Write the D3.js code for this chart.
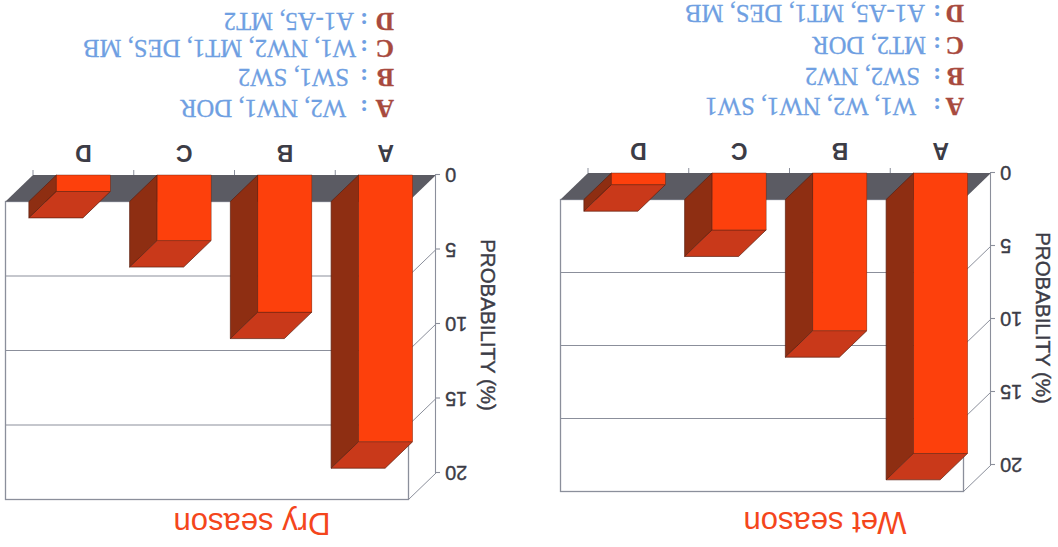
<!DOCTYPE html>
<html>
<head>
<meta charset="utf-8">
<script src="https://cdnjs.cloudflare.com/ajax/libs/d3/7.8.5/d3.min.js"></script>
<style>
  html, body { margin: 0; padding: 0; background: #fff; }
  svg { display: block; }
</style>
</head>
<body>
<svg id="chart" width="1058" height="547"></svg>
<script>
// Chart values
const categories = ["A", "B", "C", "D"];
const wetValues = [19.2, 10.8, 3.9, 0.8];
const dryValues = [17.9, 9.2, 4.4, 1.1];
const tickValues = [0, 5, 10, 15, 20];
const wetGroups = ["W1, W2, NW1, SW1", "SW2, NW2", "MT2, DOR", "A1-A5, MT1, DES, MB"];
const dryGroups = ["W2, NW1, DOR", "SW1, SW2", "W1, NW2, MT1, DES, MB", "A1-A5, MT2"];

// Panel geometry
const panels = [
  { title: "Wet season", values: wetValues, groups: wetGroups,
    left: 67, zero: 374, top: 82, width: 403, titleX: 233, titleY: 35, axisTitleX: 22, axisTitleY: 229,
    keyX: 94, colonX: 121, groupX: [142, 138, 132, 133], rowY: [449, 479, 510, 542] },
  { title: "Dry season", values: dryValues, groups: dryGroups,
    left: 622, zero: 372, top: 74, width: 403, titleX: 806, titleY: 34, axisTitleX: 577, axisTitleY: 222,
    keyX: 664, colonX: 694, groupX: [712, 709, 702, 704], rowY: [447, 478, 507, 534] }
];
const depthX = 27.5, depthY = 26.5;

const colors = {
  face: "#fd400c", side: "#8e2e12", cap: "#c9391a", edge: "#5c2010",
  floor: "#5b5b63", line: "#8b8f9b", title: "#f4461c", text: "#3c3c46",
  key: "#a84a3e", group: "#6f9fe2"
};
const sans = "'Liberation Sans', Arial, sans-serif";
const serif = "'Liberation Serif', 'Times New Roman', serif";

// The whole figure is printed upside down, so everything sits in a half-turned group
const root = d3.select("#chart").append("g").attr("transform", "rotate(180 529 273.5)");

panels.forEach(p => {
  const g = root.append("g");
  const x = d3.scaleBand().domain(categories)
    .range([p.left, p.left + p.width]).paddingInner(0.464).paddingOuter(0.232);
  const y = d3.scaleLinear().domain([0, 20]).range([p.zero, p.top]);
  const poly = pts => pts.map(d => d.join(",")).join(" ");

  // Back wall
  g.append("rect")
    .attr("x", p.left + depthX).attr("y", y(20) - depthY)
    .attr("width", p.width).attr("height", y(0) - y(20))
    .attr("fill", "#fff").attr("stroke", colors.line).attr("stroke-width", 1.3);

  // Floor
  g.append("polygon")
    .attr("points", poly([
      [p.left, y(0)], [p.left + p.width, y(0)],
      [p.left + p.width + depthX, y(0) - depthY], [p.left + depthX, y(0) - depthY]
    ]))
    .attr("fill", colors.floor);

  // Gridlines on the back wall and their returns on the side wall
  g.selectAll(".grid").data(tickValues.slice(1, 4)).join("line")
    .attr("x1", p.left + depthX).attr("x2", p.left + p.width + depthX)
    .attr("y1", d => y(d) - depthY).attr("y2", d => y(d) - depthY)
    .attr("stroke", colors.line).attr("stroke-width", 1.2);
  g.selectAll(".ret").data(tickValues.slice(1)).join("line")
    .attr("x1", p.left).attr("x2", p.left + depthX)
    .attr("y1", d => y(d)).attr("y2", d => y(d) - depthY)
    .attr("stroke", colors.line).attr("stroke-width", 1);

  // Value axis
  const axis = g.append("g").attr("transform", `translate(${p.left},0)`)
    .call(d3.axisLeft(y).tickValues(tickValues).tickSize(4).tickPadding(5));
  axis.selectAll("path,line").attr("stroke", colors.line).attr("stroke-width", 1.1);
  axis.selectAll("text")
    .attr("font-family", sans).attr("font-size", 20)
    .attr("fill", colors.text).attr("stroke", colors.text).attr("stroke-width", 0.35);

  // Category ticks at the band edges and category names at the band centres
  const step = x.step();
  g.selectAll(".cat-tick").data(categories).join("line")
    .attr("x1", d => x(d) + x.bandwidth() / 2 + step / 2)
    .attr("x2", d => x(d) + x.bandwidth() / 2 + step / 2)
    .attr("y1", y(0)).attr("y2", y(0) + 5)
    .attr("stroke", colors.line);
  g.selectAll(".cat-label").data(categories).join("text")
    .attr("x", d => x(d) + x.bandwidth() / 2).attr("y", y(0) + 30)
    .attr("text-anchor", "middle")
    .attr("font-family", sans)
    .attr("font-size", 23).attr("font-weight", 700).attr("fill", colors.text)
    .text(d => d);

  // Extruded bars
  const bars = g.selectAll(".bar")
    .data(categories.map((c, i) => ({ c, v: p.values[i] }))).join("g");
  bars.append("polygon")
    .attr("points", d => {
      const x1 = x(d.c) + x.bandwidth();
      return poly([[x1, y(0)], [x1 + depthX, y(0) - depthY],
                   [x1 + depthX, y(d.v) - depthY], [x1, y(d.v)]]);
    })
    .attr("fill", colors.side).attr("stroke", colors.edge).attr("stroke-width", 0.7);
  bars.append("polygon")
    .attr("points", d => {
      const x0 = x(d.c), x1 = x0 + x.bandwidth();
      return poly([[x0, y(d.v)], [x1, y(d.v)],
                   [x1 + depthX, y(d.v) - depthY], [x0 + depthX, y(d.v) - depthY]]);
    })
    .attr("fill", colors.cap).attr("stroke", colors.edge).attr("stroke-width", 0.7);
  bars.append("rect")
    .attr("x", d => x(d.c)).attr("y", d => y(d.v))
    .attr("width", x.bandwidth()).attr("height", d => y(0) - y(d.v))
    .attr("fill", colors.face).attr("stroke", colors.edge).attr("stroke-width", 0.4);

  // Axis title
  g.append("text")
    .attr("transform", `translate(${p.axisTitleX},${p.axisTitleY}) rotate(-90)`)
    .attr("text-anchor", "middle")
    .attr("font-family", sans)
    .attr("font-size", 20.5).attr("fill", colors.text)
    .attr("stroke", colors.text).attr("stroke-width", 0.4)
    .text("PROBABILITY (%)");

  // Panel title
  g.append("text")
    .attr("x", p.titleX).attr("y", p.titleY)
    .attr("text-anchor", "middle")
    .attr("font-family", sans)
    .attr("font-size", 31).attr("fill", colors.title)
    .text(p.title);

  // Key to the letter groups
  const rows = g.selectAll(".row").data(categories).join("g");
  rows.append("text")
    .attr("x", p.keyX).attr("y", (d, i) => p.rowY[i])
    .attr("font-family", serif)
    .attr("font-size", 25.5).attr("font-weight", 700).attr("fill", colors.key)
    .attr("stroke", colors.key).attr("stroke-width", 0.3)
    .text(d => d);
  rows.append("text")
    .attr("x", p.colonX).attr("y", (d, i) => p.rowY[i])
    .attr("text-anchor", "middle")
    .attr("font-family", serif)
    .attr("font-size", 24).attr("font-weight", 700).attr("fill", colors.group)
    .text(":");
  rows.append("text")
    .attr("x", (d, i) => p.groupX[i]).attr("y", (d, i) => p.rowY[i])
    .attr("font-family", serif)
    .attr("font-size", 24.7).attr("fill", colors.group)
    .attr("stroke", colors.group).attr("stroke-width", 0.3)
    .text((d, i) => p.groups[i]);
});
</script>
</body>
</html>
